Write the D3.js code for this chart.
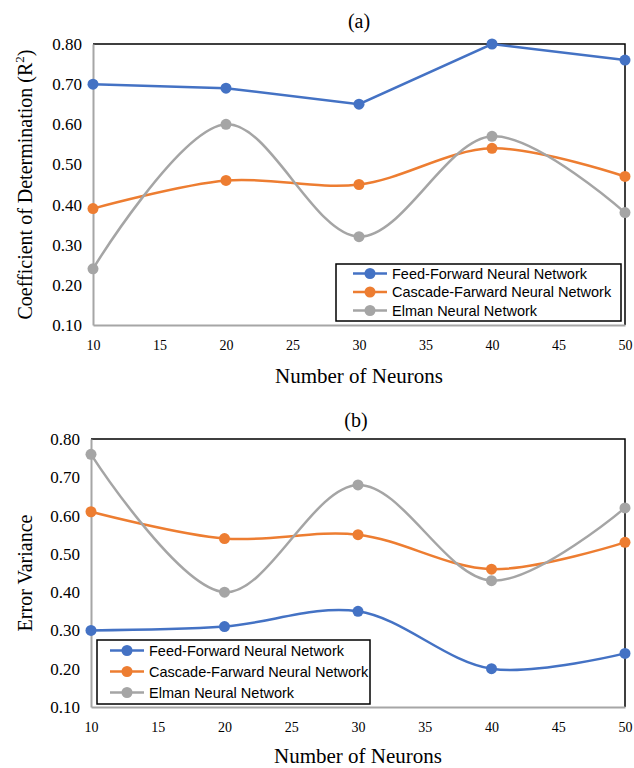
<!DOCTYPE html>
<html>
<head>
<meta charset="utf-8">
<script src="https://cdn.jsdelivr.net/npm/d3@7"></script>
<style>
  body { margin: 0; background: #fff; }
  svg { display: block; }
</style>
</head>
<body>
<script>
// data
const neurons = [10, 20, 30, 40, 50];
const xTicks = [10, 15, 20, 25, 30, 35, 40, 45, 50];
const yTicks = [0.1, 0.2, 0.3, 0.4, 0.5, 0.6, 0.7, 0.8];
const seriesNames = ["Feed-Forward Neural Network", "Cascade-Farward Neural Network", "Elman Neural Network"];
const seriesColors = ["#4472C4", "#ED7D31", "#A5A5A5"];

const r2Feed = [0.70, 0.69, 0.65, 0.80, 0.76];
const r2Cascade = [0.39, 0.46, 0.45, 0.54, 0.47];
const r2Elman = [0.24, 0.60, 0.32, 0.57, 0.38];

const evFeed = [0.30, 0.31, 0.35, 0.20, 0.24];
const evCascade = [0.61, 0.54, 0.55, 0.46, 0.53];
const evElman = [0.76, 0.40, 0.68, 0.43, 0.62];

var W = 634, H = 768;
var svg = d3.select('body').append('svg').attr('width', W).attr('height', H);

var serif = '"Liberation Serif", "Times New Roman", serif';
var sans = '"Liberation Sans", Arial, sans-serif';

function panel(o) {
  var x = d3.scaleLinear().domain([10, 50]).range([o.left, o.right]);
  var y = d3.scaleLinear().domain([0.1, 0.8]).range([o.bottom, o.top]);
  var g = svg.append('g');

  // title
  g.append('text').attr('x', o.titleX).attr('y', o.titleY)
    .attr('text-anchor', 'middle').style('font-family', serif).style('font-size', '20px')
    .text(o.title);

  // frame: black top/right, gray left/bottom
  g.append('path')
    .attr('d', 'M' + o.left + ',' + o.top + 'H' + o.right + 'V' + o.bottom)
    .attr('fill', 'none').attr('stroke', '#000').attr('stroke-width', 1.5);

  var yAxis = g.append('g').attr('transform', 'translate(' + o.left + ',0)')
    .call(d3.axisLeft(y).tickValues(yTicks).tickFormat(d3.format('.2f')).tickSize(0).tickPadding(11));
  yAxis.select('.domain').attr('stroke', '#A6A6A6').attr('stroke-width', 2);
  yAxis.selectAll('text').style('font-family', serif).style('font-size', '17px').attr('fill', '#000');

  var xAxis = g.append('g').attr('transform', 'translate(0,' + o.bottom + ')')
    .call(d3.axisBottom(x).tickValues(xTicks).tickSize(0).tickPadding(15));
  xAxis.select('.domain').attr('stroke', '#A6A6A6').attr('stroke-width', 2);
  xAxis.selectAll('text').style('font-family', serif).style('font-size', '14px').attr('fill', '#000');

  // axis titles
  g.append('text').attr('x', (o.left + o.right) / 2).attr('y', o.xTitleY)
    .attr('text-anchor', 'middle').style('font-family', serif).style('font-size', '21px')
    .text('Number of Neurons');
  var yt = g.append('text')
    .attr('transform', 'translate(' + o.yTitleX + ',' + ((o.top + o.bottom) / 2) + ') rotate(-90)')
    .attr('text-anchor', 'middle').style('font-family', serif).style('font-size', '20px');
  yt.append('tspan').text(o.yTitle);
  if (o.sup) {
    yt.append('tspan').attr('dy', -8).style('font-size', '13px').text(o.sup);
    yt.append('tspan').attr('dy', 8).text(')');
  }

  // series
  o.series.forEach(function (vals, i) {
    var pts = neurons.map(function (n, j) { return [x(n), y(vals[j])]; });
    var curve = (o.linear && o.linear[i]) ? d3.curveLinear : d3.curveCatmullRom.alpha(0.5);
    g.append('path').attr('d', d3.line().curve(curve)(pts))
      .attr('fill', 'none').attr('stroke', seriesColors[i]).attr('stroke-width', 2.5);
    g.selectAll(null).data(pts).enter().append('circle')
      .attr('cx', function (d) { return d[0]; }).attr('cy', function (d) { return d[1]; })
      .attr('r', 5.5).attr('fill', seriesColors[i]);
  });

  // legend
  var L = o.legend;
  var lg = g.append('g');
  lg.append('rect').attr('x', L.x).attr('y', L.y).attr('width', L.w).attr('height', L.h)
    .attr('fill', '#fff').attr('stroke', '#000').attr('stroke-width', 1.5);
  seriesNames.forEach(function (name, i) {
    var cy = L.y + L.first + i * L.step;
    lg.append('line').attr('x1', L.x + L.lx).attr('x2', L.x + L.lx + 34).attr('y1', cy).attr('y2', cy)
      .attr('stroke', seriesColors[i]).attr('stroke-width', 2.5);
    lg.append('circle').attr('cx', L.x + L.lx + 17).attr('cy', cy).attr('r', 5.5).attr('fill', seriesColors[i]);
    lg.append('text').attr('x', L.x + L.lx + 39).attr('y', cy + 5)
      .style('font-family', sans).style('font-size', '14.5px').text(name);
  });
}

panel({
  title: '(a)', titleX: 359, titleY: 28,
  left: 93, right: 625, top: 44, bottom: 325,
  xTitleY: 383, yTitleX: 32,
  yTitle: 'Coefficient of Determination (R', sup: '2',
  series: [r2Feed, r2Cascade, r2Elman], linear: [true, false, false],
  legend: { x: 336, y: 264, w: 285, h: 57, first: 9.5, step: 18.5, lx: 17 }
});

panel({
  title: '(b)', titleX: 356, titleY: 427,
  left: 91, right: 625, top: 439, bottom: 707,
  xTitleY: 763, yTitleX: 32,
  yTitle: 'Error Variance',
  series: [evFeed, evCascade, evElman],
  legend: { x: 97, y: 640, w: 273, h: 64, first: 10.5, step: 21, lx: 13 }
});
</script>
</body>
</html>
